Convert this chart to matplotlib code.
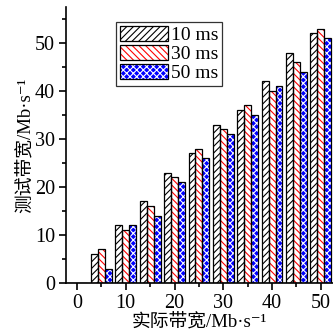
import matplotlib
matplotlib.use("Agg")
import matplotlib.pyplot as plt
from matplotlib.patches import Patch
from matplotlib.legend_handler import HandlerTuple
from matplotlib.ticker import MultipleLocator
import numpy as np

plt.rcParams['font.family'] = ['Liberation Serif', 'Noto Sans CJK SC', 'DejaVu Serif']
plt.rcParams['hatch.linewidth'] = 0.8

actual_bw = [0, 5, 10, 15, 20, 25, 30, 35, 40, 45, 50]
series_labels = ['10 ms', '30 ms', '50 ms']
bw_10ms = [0, 6, 12, 17, 23, 27, 33, 36, 42, 48, 52]
bw_30ms = [0, 7, 11, 16, 22, 28, 32, 37, 40, 46, 53]
bw_50ms = [0, 3, 12, 14, 21, 26, 31, 35, 41, 44, 51]
xlabel = '实际带宽/Mb·s⁻¹'
ylabel = '测试带宽/Mb·s⁻¹'

styles = [
    dict(face='white', hatchcol='black', hatch='/////'),
    dict(face='white', hatchcol='red', hatch='\\\\\\\\\\'),
    dict(face='#0000ff', hatchcol='white', hatch='xxxxx'),
]

fig = plt.figure(figsize=(3.33, 3.36), dpi=100)
ax = fig.add_axes([66/333, 1-283/336, 1-66/333, 276/336])

w = 1.42
x = np.array(actual_bw, dtype=float)
handles = []
for i, (vals, st, lab) in enumerate(zip([bw_10ms, bw_30ms, bw_50ms], styles, series_labels)):
    pos = x + (i - 1) * w
    ax.bar(pos, vals, width=w, color=st['face'], edgecolor=st['hatchcol'],
           hatch=st['hatch'], linewidth=0, zorder=2)
    ax.bar(pos, vals, width=w, fill=False, edgecolor='black', linewidth=0.9, zorder=3)
    h1 = Patch(facecolor=st['face'], edgecolor=st['hatchcol'], hatch=st['hatch'], linewidth=0)
    h2 = Patch(fill=False, edgecolor='black', linewidth=0.9)
    handles.append((h1, h2))

ax.set_xlim(-2.25, 52.5)
ax.set_ylim(0, 57.5)
ax.spines['top'].set_visible(False)
ax.spines['right'].set_visible(False)
for s in ['left', 'bottom']:
    ax.spines[s].set_linewidth(1.2)
ax.xaxis.set_major_locator(MultipleLocator(10))
ax.xaxis.set_minor_locator(MultipleLocator(5))
ax.yaxis.set_major_locator(MultipleLocator(10))
ax.yaxis.set_minor_locator(MultipleLocator(5))
ax.tick_params(which='major', direction='out', length=5, width=1.2, labelsize=14.5, pad=3)
ax.tick_params(which='minor', direction='out', length=3, width=1.2)
ax.set_xlabel(xlabel, fontsize=13.5, labelpad=0)
ax.set_ylabel(ylabel, fontsize=13.5, labelpad=1)

leg = ax.legend(handles, series_labels, handler_map={tuple: HandlerTuple(ndivide=1)},
                loc='upper left', bbox_to_anchor=(0.187, 0.946), borderaxespad=0,
                fontsize=14, handlelength=2.5, handleheight=0.85, labelspacing=0.02,
                handletextpad=0.12, borderpad=0.2, frameon=True, fancybox=False,
                edgecolor='black')
leg.get_frame().set_linewidth(0.9)

fig.savefig('out.png', dpi=100)
